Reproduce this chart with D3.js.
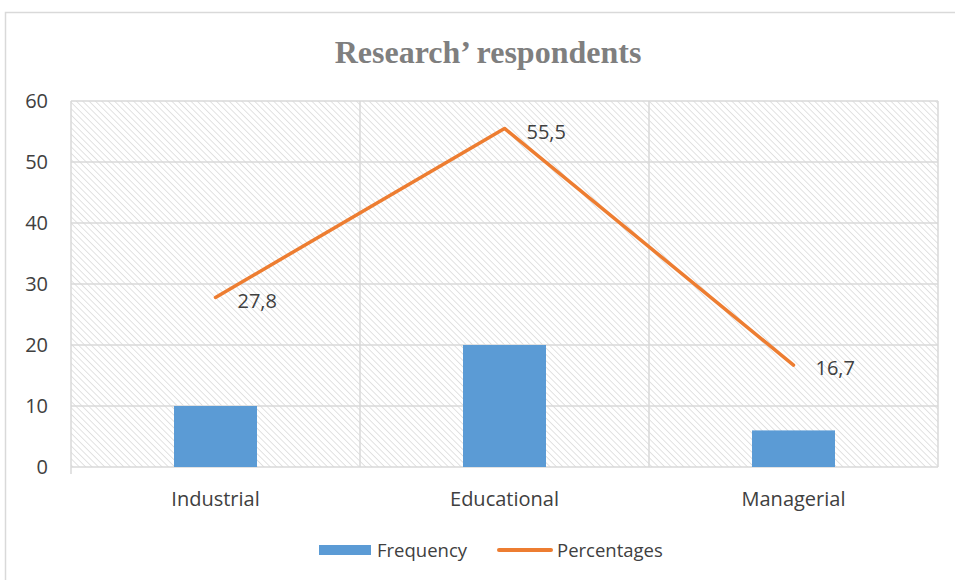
<!DOCTYPE html>
<html>
<head>
<meta charset="utf-8">
<script src="https://cdnjs.cloudflare.com/ajax/libs/d3/7.8.5/d3.min.js"></script>
<style>
  body { margin: 0; background: #fff; }
  svg { display: block; }
</style>
</head>
<body>
<svg id="chart"></svg>
<script>
// chart data
const categories = ["Industrial", "Educational", "Managerial"];
const frequency = [10, 20, 6];
const percentages = [27.8, 55.5, 16.7];
const yTicks = [0, 10, 20, 30, 40, 50, 60];

var svgWidth = 955, svgHeight = 580;
var margin = {left: 71, right: 17, top: 101, bottom: 113};
var plotW = svgWidth - margin.left - margin.right;
var plotH = svgHeight - margin.top - margin.bottom;
var labelFont = "'Open Sans', sans-serif";

var svg = d3.select('#chart')
	.attr("width", svgWidth)
	.attr("height", svgHeight);

// hatch pattern for plot background
var defs = svg.append("defs");
var pat = defs.append("pattern")
	.attr("id", "hatch")
	.attr("patternUnits", "userSpaceOnUse")
	.attr("width", 4.5)
	.attr("height", 4.5)
	.attr("patternTransform", "rotate(-45)");
pat.append("line")
	.attr("x1", 0).attr("y1", 0)
	.attr("x2", 0).attr("y2", 4.5)
	.attr("stroke", "#d9d9d9")
	.attr("stroke-width", 1.5);

// outer chart border
svg.append("rect")
	.attr("x", 5.5).attr("y", 12.5)
	.attr("width", 980).attr("height", 600)
	.attr("fill", "none")
	.attr("stroke", "#d9d9d9")
	.attr("stroke-width", 1.5);

// title
svg.append("text")
	.attr("x", 488)
	.attr("y", 63)
	.attr("text-anchor", "middle")
	.attr("font-family", "'Liberation Serif', 'Times New Roman', serif")
	.attr("font-weight", "bold")
	.attr("font-size", 32)
	.attr("fill", "#7f7f7f")
	.text("Research\u2019 respondents");

var x = d3.scaleBand()
	.domain(categories)
	.range([margin.left, margin.left + plotW])
	.paddingInner(0)
	.paddingOuter(0);

var y = d3.scaleLinear()
	.domain([0, 60])
	.range([margin.top + plotH, margin.top]);

// plot background
svg.append("rect")
	.attr("x", margin.left)
	.attr("y", margin.top)
	.attr("width", plotW)
	.attr("height", plotH)
	.attr("fill", "url(#hatch)");

// horizontal gridlines
svg.append("g")
	.selectAll("line")
	.data(yTicks)
	.enter()
	.append("line")
	.attr("x1", margin.left)
	.attr("x2", margin.left + plotW)
	.attr("y1", function(d) { return y(d); })
	.attr("y2", function(d) { return y(d); })
	.attr("stroke", "#d9d9d9")
	.attr("stroke-width", 1.5);

// vertical category separators
var seps = categories.map(function(c) { return x(c); }).concat([margin.left + plotW]);
svg.append("g")
	.selectAll("line")
	.data(seps)
	.enter()
	.append("line")
	.attr("x1", function(d) { return d; })
	.attr("x2", function(d) { return d; })
	.attr("y1", margin.top)
	.attr("y2", function(d, i) { return i == 0 ? y(0) + 7 : y(0); })
	.attr("stroke", "#d9d9d9")
	.attr("stroke-width", 1.5);

// y axis labels
svg.append("g")
	.selectAll("text")
	.data(yTicks)
	.enter()
	.append("text")
	.attr("x", 48)
	.attr("y", function(d) { return y(d); })
	.attr("dy", "0.36em")
	.attr("text-anchor", "end")
	.attr("font-family", labelFont)
	.attr("font-size", 20)
	.attr("fill", "#404040")
	.text(function(d) { return d; });

// category labels
svg.append("g")
	.selectAll("text")
	.data(categories)
	.enter()
	.append("text")
	.attr("x", function(d) { return x(d) + x.bandwidth() / 2; })
	.attr("y", 506)
	.attr("text-anchor", "middle")
	.attr("font-family", labelFont)
	.attr("font-size", 20)
	.attr("fill", "#404040")
	.text(function(d) { return d; });

// bars
var barWidth = 83;
svg.append("g")
	.selectAll("rect")
	.data(frequency)
	.enter()
	.append("rect")
	.attr("x", function(d, i) { return x(categories[i]) + x.bandwidth() / 2 - barWidth / 2; })
	.attr("y", function(d) { return y(d); })
	.attr("width", barWidth)
	.attr("height", function(d) { return y(0) - y(d); })
	.attr("fill", "#5b9bd5");

// percentages line
var line = d3.line()
	.x(function(d, i) { return x(categories[i]) + x.bandwidth() / 2; })
	.y(function(d) { return y(d); });

svg.append("path")
	.datum(percentages)
	.attr("d", line)
	.attr("fill", "none")
	.attr("stroke", "#ed7d31")
	.attr("stroke-width", 3.5)
	.attr("stroke-linejoin", "round")
	.attr("stroke-linecap", "round");

// data labels
svg.append("g")
	.selectAll("text")
	.data(percentages)
	.enter()
	.append("text")
	.attr("x", function(d, i) { return x(categories[i]) + x.bandwidth() / 2 + 22; })
	.attr("y", function(d) { return y(d) + 3; })
	.attr("dy", "0.36em")
	.attr("font-family", labelFont)
	.attr("font-size", 20)
	.attr("fill", "#404040")
	.text(function(d) { return String(d).replace(".", ","); });

// legend
var legend = svg.append("g");
legend.append("rect")
	.attr("x", 319).attr("y", 545)
	.attr("width", 52).attr("height", 10)
	.attr("fill", "#5b9bd5");
legend.append("text")
	.attr("x", 377).attr("y", 550)
	.attr("dy", "0.36em")
	.attr("font-family", labelFont)
	.attr("font-size", 18.5)
	.attr("fill", "#404040")
	.text("Frequency");
legend.append("line")
	.attr("x1", 499).attr("x2", 551)
	.attr("y1", 550).attr("y2", 550)
	.attr("stroke", "#ed7d31")
	.attr("stroke-width", 4)
	.attr("stroke-linecap", "round");
legend.append("text")
	.attr("x", 557).attr("y", 550)
	.attr("dy", "0.36em")
	.attr("font-family", labelFont)
	.attr("font-size", 18.5)
	.attr("fill", "#404040")
	.text("Percentages");
</script>
</body>
</html>
